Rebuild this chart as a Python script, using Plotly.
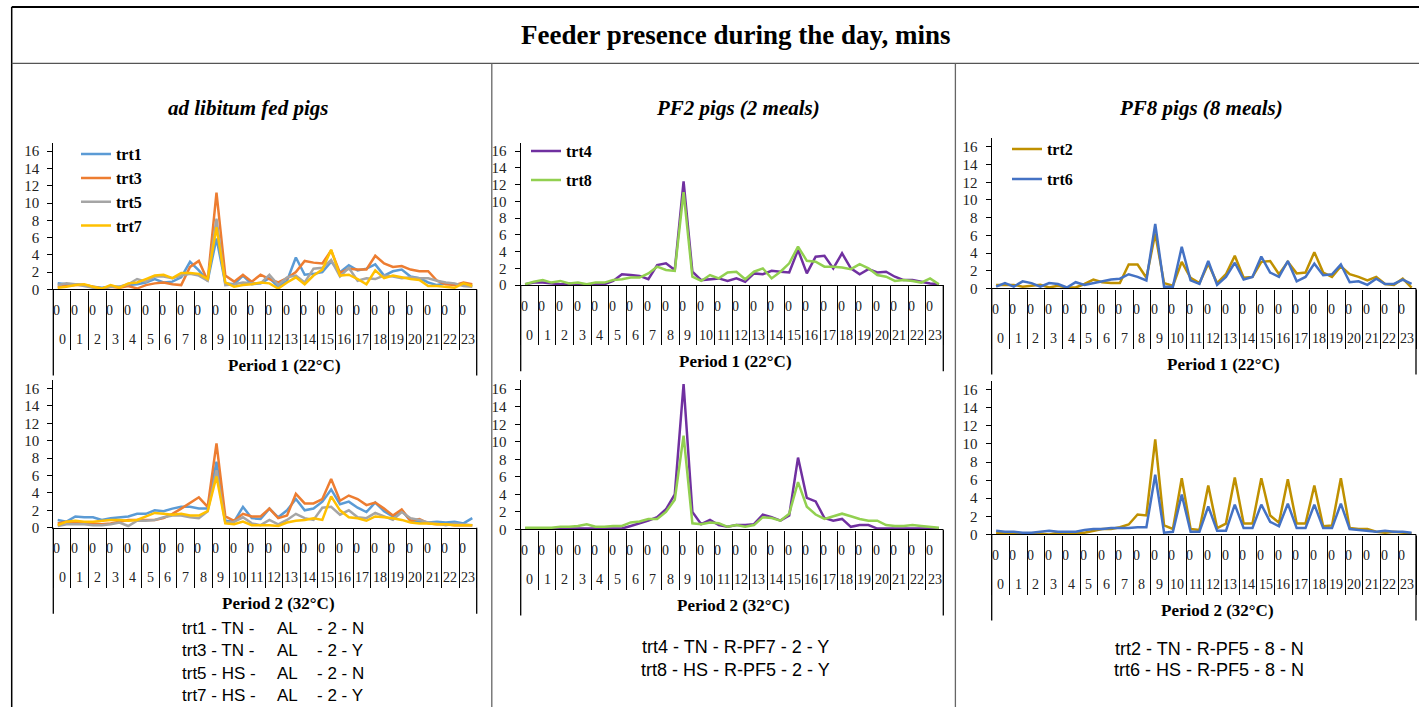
import plotly.graph_objects as go

W, H = 1419, 707          # reference picture size (layout coordinates below are in its pixels)
HF = 716                  # figure height; the photographed page is rescaled to H

# ---------------- data ----------------
HOURS = [str(h) for h in range(24)]
SUBSLOT = ["0", "30"]          # two half-hour slots per hour
SLOTS = list(range(len(HOURS) * len(SUBSLOT)))

# Period 1 (22 C) - ad libitum fed pigs
p1_trt1 = [0.7,0.6,0.6,0.5,0.3,0.2,0.3,0.3,0.5,0.6, 0.8,1.2,0.8,0.9,1.4,3.2,2.2,1.0,5.9,0.7,
           0.6,1.6,0.6,0.7,1.3,0.3,1.0,3.7,1.7,1.8, 2.0,3.2,2.0,2.8,2.2,2.4,2.9,1.6,2.1,2.3,
           1.5,1.3,0.8,0.5,0.7,0.6,0.5,0.4]
p1_trt3 = [0.3,0.4,0.5,0.5,0.3,0.1,0.3,0.2,0.4,0.1, 0.5,0.7,0.8,0.6,0.5,2.6,3.3,1.0,11.2,1.6,
           0.9,1.7,0.9,1.7,1.2,0.8,1.3,2.0,3.3,3.1, 3.0,4.5,1.9,2.4,2.3,2.3,3.9,3.0,2.6,2.7,
           2.3,2.1,2.1,1.0,0.6,0.5,0.8,0.6]
p1_trt5 = [0.5,0.7,0.6,0.4,0.2,0.1,0.3,0.3,0.6,1.2, 0.9,1.5,1.5,1.3,1.6,1.8,1.6,1.0,8.2,0.5,
           0.6,0.8,0.7,0.7,1.7,0.5,1.4,1.6,0.8,2.4, 2.5,3.4,1.5,2.5,1.0,1.3,1.2,1.6,1.5,1.3,
           1.4,1.3,1.3,1.0,0.8,0.7,0.4,0.3]
p1_trt7 = [0.2,0.3,0.5,0.6,0.3,0.1,0.5,0.2,0.7,0.8, 1.2,1.6,1.7,1.3,1.9,1.9,1.8,1.2,7.2,0.8,
           0.3,0.5,0.6,0.8,0.7,0.1,0.8,1.4,0.6,1.6, 2.3,4.6,1.6,1.7,1.2,0.6,2.2,1.3,1.6,1.4,
           1.2,1.1,0.4,0.4,0.3,0.2,0.7,0.4]
# Period 1 - PF2 pigs
p1_trt4 = [0.1,0.3,0.3,0.2,0.1,0.2,0.1,0.1,0.1,0.1, 0.5,1.3,1.2,1.1,0.7,2.4,2.6,1.8,12.4,1.6,
           0.6,0.7,0.8,0.5,0.8,0.4,1.4,1.3,1.7,1.6, 1.5,4.2,1.4,3.4,3.5,2.0,3.8,2.0,1.3,1.9,
           1.5,1.6,1.0,0.6,0.6,0.4,0.2,0.1]
p1_trt8 = [0.1,0.4,0.6,0.3,0.5,0.2,0.3,0.1,0.3,0.3, 0.6,0.7,0.9,0.9,1.4,2.2,1.8,1.7,11.1,1.0,
           0.5,1.2,0.8,1.5,1.6,0.7,1.6,2.0,0.8,1.6, 2.6,4.6,2.9,2.8,2.2,2.2,2.1,1.9,2.5,2.0,
           1.2,1.0,0.5,0.6,0.5,0.3,0.8,0.1]
# Period 1 - PF8 pigs
p1_trt2 = [0.4,0.4,0.4,0.2,0.3,0.4,0.1,0.3,0.1,0.1, 0.5,1.0,0.7,0.6,0.6,2.7,2.7,1.2,6.2,0.6,
           0.3,3.0,1.2,0.6,2.8,0.6,1.6,3.7,1.2,1.3, 3.0,3.1,1.6,3.0,1.7,1.8,4.1,1.8,1.3,2.5,
           1.6,1.3,0.9,1.3,0.5,0.4,1.1,0.1]
p1_trt6 = [0.2,0.6,0.2,0.8,0.6,0.2,0.6,0.5,0.1,0.7, 0.4,0.6,0.8,1.0,1.1,1.6,1.3,0.9,7.3,0.2,
           0.2,4.7,0.9,0.5,3.1,0.4,1.3,2.9,1.0,1.3, 3.6,1.8,1.3,3.1,0.8,1.3,2.8,1.5,1.6,2.7,
           0.7,0.8,0.4,1.1,0.5,0.5,1.0,0.5]
# Period 2 (32 C) - ad libitum fed pigs
p2_trt1 = [0.9,0.7,1.3,1.2,1.2,0.9,1.1,1.2,1.3,1.6, 1.6,2.0,1.9,2.2,2.4,2.4,2.2,2.2,7.6,0.8,
           0.7,2.4,1.1,1.0,2.2,1.2,2.0,3.3,2.0,2.2, 3.0,4.4,2.7,3.0,2.3,1.8,2.9,1.9,1.3,2.0,
           0.8,0.7,0.6,0.7,0.6,0.7,0.5,1.1]
p2_trt3 = [0.5,0.7,0.6,0.6,0.5,0.4,0.5,0.7,0.9,0.9, 0.9,0.9,1.1,1.6,2.2,2.9,3.5,2.4,9.7,1.3,
           0.8,1.6,1.3,1.3,2.2,1.1,1.4,3.9,2.8,2.8, 3.3,5.6,3.1,3.7,3.3,2.6,2.9,2.2,1.4,2.1,
           0.8,1.0,0.5,0.4,0.4,0.3,0.3,0.3]
p2_trt5 = [0.2,0.4,0.4,0.4,0.3,0.3,0.4,0.6,0.2,0.8, 0.8,0.9,1.2,1.4,1.4,1.2,1.1,1.9,6.6,0.6,
           0.7,1.2,0.5,0.3,0.9,0.4,0.9,1.6,1.1,0.9, 2.3,2.4,1.5,2.0,1.2,1.1,1.7,1.3,0.9,1.8,
           1.1,0.9,0.6,0.5,0.3,0.5,0.4,0.3]
p2_trt7 = [0.3,0.7,0.8,0.7,0.7,0.8,0.9,0.9,0.8,0.9, 1.3,1.7,1.6,1.5,1.6,1.4,1.4,1.9,5.9,0.5,
           0.4,0.7,0.3,0.3,0.3,0.2,0.6,0.8,0.9,1.1, 0.9,3.6,2.0,1.2,1.1,0.8,1.3,1.2,1.1,0.9,
           0.6,0.5,0.5,0.4,0.4,0.3,0.3,0.3]
# Period 2 - PF2 pigs
p2_trt4 = [0.1,0.1,0.1,0.1,0.1,0.1,0.1,0.1,0.1,0.1, 0.1,0.1,0.4,0.7,1.0,1.4,2.3,4.0,16.6,2.0,
           0.6,1.1,0.5,0.3,0.5,0.5,0.6,1.7,1.4,1.0, 1.6,8.2,3.6,3.2,1.3,1.0,1.2,0.3,0.5,0.5,
           0.1,0.1,0.1,0.1,0.1,0.1,0.1,0.1]
p2_trt8 = [0.2,0.2,0.2,0.2,0.3,0.3,0.4,0.6,0.3,0.3, 0.4,0.4,0.8,0.9,1.2,1.2,2.0,3.4,10.7,0.7,
           0.6,0.8,0.7,0.3,0.5,0.3,0.5,1.4,1.3,1.0, 1.8,5.4,2.6,1.7,1.2,1.5,1.8,1.5,1.2,1.0,
           1.0,0.5,0.4,0.4,0.5,0.4,0.3,0.2]
# Period 2 - PF8 pigs
p2_trt2 = [0.2,0.1,0.2,0.1,0.1,0.1,0.0,0.2,0.1,0.2, 0.2,0.4,0.6,0.6,0.8,1.1,2.2,2.1,10.5,1.0,
           0.6,6.2,0.6,0.5,5.4,0.7,1.2,6.3,1.2,1.2, 6.2,2.1,1.3,6.1,1.2,1.2,5.4,0.9,1.0,6.2,
           0.7,0.6,0.6,0.3,0.2,0.3,0.2,0.1]
p2_trt6 = [0.4,0.3,0.3,0.2,0.2,0.3,0.4,0.3,0.3,0.3, 0.5,0.6,0.6,0.7,0.7,0.7,0.8,0.8,6.6,0.2,
           0.3,4.4,0.3,0.3,3.1,0.4,0.4,3.3,0.7,0.7, 3.3,1.4,0.9,3.4,0.7,0.7,3.3,0.7,0.7,3.4,
           0.6,0.5,0.4,0.3,0.4,0.3,0.3,0.2]

Y_TICKS = list(range(0, 17, 2))
TITLE = "Feeder presence during the day, mins"
GROUP_TITLES = ["ad libitum fed pigs", "PF2 pigs (2 meals)", "PF8 pigs (8 meals)"]
PERIODS = ["Period 1 (22°C)", "Period 2 (32°C)"]
NOTES_AL = [("trt1 - TN -", "AL", "- 2 - N"), ("trt3 - TN -", "AL", "- 2 - Y"),
            ("trt5 - HS -", "AL", "- 2 - N"), ("trt7 - HS -", "AL", "- 2 - Y")]
NOTES_PF2 = ["trt4 - TN - R-PF7 - 2 - Y", "trt8 - HS - R-PF5 - 2 - Y"]
NOTES_PF8 = ["trt2 - TN - R-PF5 - 8 - N", "trt6 - HS - R-PF5 - 8 - N"]

# ---------------- styling ----------------
SERIF = "Liberation Serif, Times New Roman, serif"
SANS = "Liberation Sans, Arial, sans-serif"
C = {"trt1": "#5B9BD5", "trt3": "#ED7D31", "trt5": "#A5A5A5", "trt7": "#FFC000",
     "trt4": "#7030A0", "trt8": "#92D050", "trt2": "#BF9000", "trt6": "#4472C4"}
VS = HF / H   # vertical pixel stretch


def px(x):
    return x / W


def py(y):
    return 1 - y / H


def label(x, y, text, font, xanchor="center", xref="paper", xshift=0):
    return dict(x=x, y=y, xref=xref, yref="paper", text=text, showarrow=False,
                xanchor=xanchor, yanchor="middle", xshift=xshift, font=font)


panels = [
    dict(x0=53.3, x1=476.7, zero=289.0, unit=8.625, period=PERIODS[0], pcx=284,
         series=[("trt1", p1_trt1), ("trt3", p1_trt3), ("trt5", p1_trt5), ("trt7", p1_trt7)],
         legend=dict(x=76, y=137, gap=0, order="normal")),
    dict(x0=520.7, x1=943.3, zero=284.7, unit=8.36, period=PERIODS[0], pcx=735,
         series=[("trt4", p1_trt4), ("trt8", p1_trt8)],
         legend=dict(x=526, y=134, gap=5, order="grouped")),
    dict(x0=991.7, x1=1416.0, zero=288.0, unit=8.83, period=PERIODS[0], pcx=1223,
         series=[("trt2", p1_trt2), ("trt6", p1_trt6)],
         legend=dict(x=1007, y=132, gap=6, order="grouped")),
    dict(x0=53.3, x1=476.7, zero=527.0, unit=8.69, period=PERIODS[1], pcx=278,
         series=[("trt1", p2_trt1), ("trt3", p2_trt3), ("trt5", p2_trt5), ("trt7", p2_trt7)],
         legend=None),
    dict(x0=520.7, x1=943.3, zero=528.7, unit=8.75, period=PERIODS[1], pcx=733,
         series=[("trt4", p2_trt4), ("trt8", p2_trt8)], legend=None),
    dict(x0=991.7, x1=1416.0, zero=533.7, unit=9.04, period=PERIODS[1], pcx=1217,
         series=[("trt2", p2_trt2), ("trt6", p2_trt6)], legend=None),
]

fig = go.Figure()
layout = dict(width=W, height=HF, margin=dict(l=0, r=0, t=0, b=0),
              paper_bgcolor="white", plot_bgcolor="rgba(0,0,0,0)", showlegend=True)
annotations = []
shapes = []

boundaries = [2 * h - 0.5 for h in range(len(HOURS) + 1)]
legend_count = 0
axfont = dict(family=SERIF, size=14, color="#222")

for n, p in enumerate(panels, start=1):
    sfx = "" if n == 1 else str(n)
    xa, ya = "x" + sfx, "y" + sfx
    ymax = 17
    layout["xaxis" + sfx] = dict(
        domain=[px(p["x0"]), px(p["x1"])], range=[-0.5, len(SLOTS) - 0.5], anchor=ya,
        showline=True, linecolor="black", linewidth=1.3, showgrid=False, zeroline=False,
        tickmode="array", tickvals=boundaries, ticktext=[""] * len(boundaries),
        ticks="outside", ticklen=round(58 * VS), tickwidth=1.3, tickcolor="black",
        fixedrange=True)
    layout["yaxis" + sfx] = dict(
        domain=[py(p["zero"]), py(p["zero"] - ymax * p["unit"])], range=[0, ymax], anchor=xa,
        showline=True, linecolor="black", linewidth=1.3, showgrid=False, zeroline=False,
        tickmode="array", tickvals=Y_TICKS, ticks="outside", ticklen=5, tickwidth=1.2,
        tickcolor="black", ticklabelstandoff=5,
        tickfont=dict(family=SERIF, size=15, color="#222"), fixedrange=True)

    lg = None
    if p["legend"] is not None:
        legend_count += 1
        lg = "legend" if legend_count == 1 else "legend%d" % legend_count
        L = p["legend"]
        layout[lg] = dict(x=px(L["x"]), y=py(L["y"]), xanchor="left", yanchor="top",
                          bgcolor="rgba(0,0,0,0)", borderwidth=0, itemwidth=30,
                          tracegroupgap=L["gap"], traceorder=L["order"],
                          font=dict(family=SERIF, size=16, color="black", weight="bold"))

    for name, vals in p["series"]:
        fig.add_trace(go.Scatter(
            x=SLOTS, y=vals, mode="lines", name=name,
            line=dict(color=C[name], width=2.5),
            xaxis=xa, yaxis=ya, showlegend=lg is not None,
            legend=lg if lg else "legend", legendgroup="%s_%d" % (name, n)))

    z = p["zero"]
    # category labels: sub-slot "0" row and hour row
    for h, lab in enumerate(HOURS):
        annotations.append(label(2 * h - 0.5, py(z + 21), SUBSLOT[0], axfont,
                                 xanchor="left", xref=xa, xshift=-2))
        annotations.append(label(2 * h + 0.5, py(z + 50), lab, axfont, xref=xa))
    annotations.append(label(px(p["pcx"]), py(z + 76), "<b>%s</b>" % p["period"],
                             dict(family=SERIF, size=17, color="black")))
    # long end lines of the category box
    for xe in (p["x0"], p["x1"]):
        shapes.append(dict(type="line", xref="paper", yref="paper", x0=px(xe), x1=px(xe),
                           y0=py(z), y1=py(z + 86), line=dict(color="black", width=1.3)))

# titles
annotations.append(label(px(735.5), py(35), "<b>%s</b>" % TITLE,
                         dict(family=SERIF, size=27, color="black")))
for cx, t in zip([248, 738, 1201], GROUP_TITLES):
    annotations.append(label(px(cx), py(108), "<b><i>%s</i></b>" % t,
                             dict(family=SERIF, size=21, color="black")))

# treatment notes
sans17 = dict(family=SANS, size=17, color="black")
sans18 = dict(family=SANS, size=18, color="black")
for k, parts in enumerate(NOTES_AL):
    yy = [628, 650, 673, 695][k]
    for xx, t in zip((180, 275, 315), parts):
        annotations.append(label(px(xx), py(yy), t, sans17, xanchor="left"))
for k, t in enumerate(NOTES_PF2):
    annotations.append(label(px(736), py([646, 669][k]), t, sans18))
for k, t in enumerate(NOTES_PF8):
    annotations.append(label(px(1209), py([648, 669][k]), t, sans18))

# frame
frame = [
    (11.7, 7, 1419, 7, "black", 2),
    (11.7, 7, 11.7, 707, "black", 1.5),
    (11.7, 63.3, 1419, 63.3, "#555", 1.2),
    (491.8, 63.3, 491.8, 707, "#666", 1.3),
    (955.4, 63.3, 955.4, 707, "#666", 1.3),
]
for x0, y0, x1, y1, col, wd in frame:
    shapes.append(dict(type="line", xref="paper", yref="paper", x0=px(x0), x1=px(x1),
                       y0=py(y0), y1=py(y1), line=dict(color=col, width=wd)))

layout["annotations"] = annotations
layout["shapes"] = shapes
fig.update_layout(**layout)
fig.write_html(
    "out.html",
    config={"displayModeBar": False},
    post_script=(
        "document.documentElement.style.margin='0';"
        "document.body.style.margin='0';"
        "document.body.style.overflow='hidden';"
        "var gd=document.getElementById('{plot_id}');"
        "gd.style.position='fixed';gd.style.left='0px';gd.style.top='0px';"
    ),
)
